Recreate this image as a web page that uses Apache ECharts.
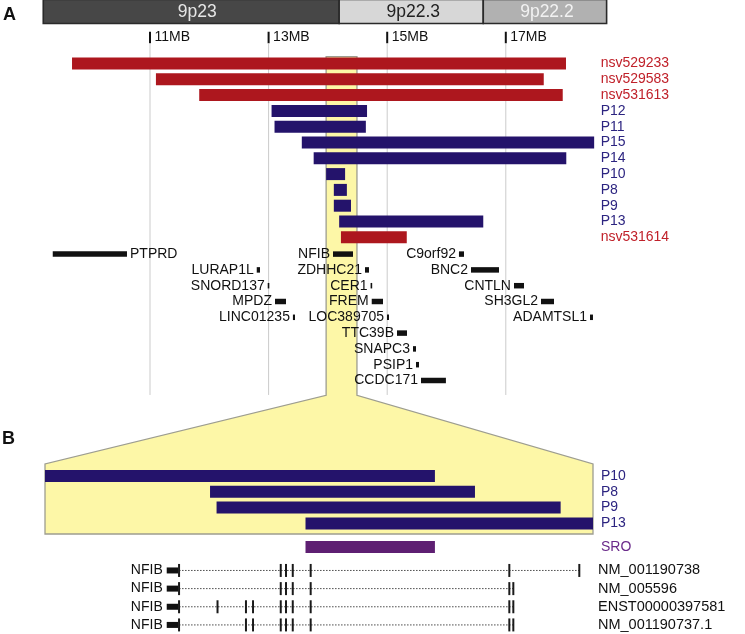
<!DOCTYPE html>
<html><head><meta charset="utf-8">
<script src="https://cdn.jsdelivr.net/npm/echarts@6/dist/echarts.min.js"></script>
<style>html,body{margin:0;padding:0;background:#fff}#c{width:745px;height:634px}</style>
</head><body><div id="c"></div>
<script>
// ================= DATA =================
// chromosome bands (MB)
const bandNames = ['9p23', '9p22.3', '9p22.2'];
const bandStart = [9.2, 14.19, 16.62];
const bandEnd   = [14.19, 16.62, 18.7];
// axis ticks (MB)
const tickValues = [11, 13, 15, 17];
const tickLabels = ['11MB', '13MB', '15MB', '17MB'];
// CNVs (MB)
const cnvNames  = ['nsv529233','nsv529583','nsv531613','P12','P11','P15','P14','P10','P8','P9','P13','nsv531614'];
const cnvStart  = [9.685, 11.10, 11.83, 13.05, 13.10, 13.56, 13.76, 13.97, 14.10, 14.10, 14.19, 14.22];
const cnvEnd    = [18.015, 17.64, 17.96, 14.66, 14.64, 18.49, 18.02, 14.29, 14.32, 14.39, 16.62, 15.33];
const cnvSource = ['DGV','DGV','DGV','patient','patient','patient','patient','patient','patient','patient','patient','DGV'];
// highlighted (zoomed) region (MB)
const zoomRegionStart = 13.97, zoomRegionEnd = 14.49;
// genes (MB) and their track
const geneNames = ['PTPRD','LURAP1L','SNORD137','MPDZ','LINC01235','NFIB','ZDHHC21','CER1','FREM','LOC389705','TTC39B','SNAPC3','PSIP1','CCDC171','C9orf92','BNC2','CNTLN','SH3GL2','ADAMTSL1'];
const geneStart = [9.36, 12.80, 12.985, 13.108, 13.41, 14.086, 14.626, 14.72, 14.739, 14.997, 15.165, 15.435, 15.486, 15.57, 16.21, 16.413, 17.138, 17.594, 18.42];
const geneEnd   = [10.612, 12.855, 13.0, 13.293, 13.445, 14.423, 14.693, 14.735, 14.929, 15.03, 15.334, 15.486, 15.536, 15.99, 16.295, 16.885, 17.307, 17.813, 18.47];
const geneTrack = [0, 1, 2, 3, 4, 0, 1, 2, 3, 4, 5, 6, 7, 8, 0, 1, 2, 3, 4];
// panel B: zoomed deletions (MB)
const zoomNames = ['P10', 'P8', 'P9', 'P13'];
const zoomStart = [13.97, 14.1266, 14.1328, 14.2172];
const zoomEnd   = [14.340, 14.378, 14.4593, 14.49];
const sroName = 'SRO', sroStart = 14.2172, sroEnd = 14.340;
// NFIB transcripts (MB)
const txGene = 'NFIB';
const txNames = ['NM_001190738', 'NM_005596', 'ENST00000397581', 'NM_001190737.1'];
const txFirstStart = 14.0855, txFirstEnd = 14.0965;
const txExons = [
  [14.0972, 14.1937, 14.1987, 14.2051, 14.2221, 14.4106, 14.477],
  [14.0972, 14.1937, 14.1987, 14.2051, 14.2221, 14.4106, 14.4144],
  [14.0972, 14.1337, 14.1607, 14.1674, 14.1937, 14.1987, 14.2051, 14.2221, 14.4106, 14.4144],
  [14.0972, 14.1607, 14.1674, 14.1937, 14.1987, 14.2051, 14.2221, 14.4106, 14.4144]
];

// ================= STYLE / LAYOUT =================
const FONT = '"Liberation Sans", Arial, Helvetica, sans-serif';
const RED = '#ad171e', RED_T = '#c0212a';
const NAVY = '#24136b', NAVY_T = '#2c2480';
const PURPLE = '#5e1f72', PURPLE_T = '#6a2a8a';
const bandFill = ['#474747', '#d7d7d7', '#b1b1b1'];
const bandText = ['#e6e6e6', '#222222', '#f2f2f2'];
// panel A row layout (row units)
const BAND_TOP = -4.05, BAND_BOT = -2.53;
const TICK_TOP = -2.01, TICK_BOT = -1.28, TICK_LAB = -1.66;
const GRID_TOP = -1.23, GRID_BOT = 20.98;
const GENE_ROW0 = 12;
const HL_TOP = -0.43, HL_BOT = 21.0;
const B_HL_TOP = -0.76, B_HL_BOT = 3.67;
const SRO_ROW = 4.5;

const measureCtx = document.createElement('canvas').getContext('2d');
function textWidth(t, size) { measureCtx.font = size + 'px ' + FONT; return measureCtx.measureText(t).width; }
function txt(x, y, text, opts) {
  return { type: 'text', x: x, y: y, z2: 10,
    style: Object.assign({ text: text, fontSize: 14, fontFamily: FONT, fill: '#111',
      textAlign: 'left', textVerticalAlign: 'middle' }, opts || {}) };
}

const chart = echarts.init(document.getElementById('c'), null, { renderer: 'canvas' });

const hiddenAxis = (min, max, gi, inverse) => ({ type: 'value', min: min, max: max, gridIndex: gi, show: false, inverse: !!inverse });

const option = {
  animation: false,
  backgroundColor: '#ffffff',
  title: [
    { text: 'A', left: 3, top: 6, padding: 0, textStyle: { fontSize: 18, fontWeight: 'bold', fontFamily: FONT, color: '#111' } },
    { text: 'B', left: 2, top: 430, padding: 0, textStyle: { fontSize: 18, fontWeight: 'bold', fontFamily: FONT, color: '#111' } }
  ],
  grid: [
    { left: 43.26, top: 0.3, width: 563.35, height: 410.8 },
    { left: 45, top: 460.2, width: 548, height: 94.8 },
    { left: 45, top: 561.375, width: 548, height: 74.6 }
  ],
  xAxis: [hiddenAxis(9.2, 18.7, 0), hiddenAxis(zoomRegionStart, zoomRegionEnd, 1), hiddenAxis(zoomRegionStart, zoomRegionEnd, 2)],
  yAxis: [hiddenAxis(-4, 22, 0, true), hiddenAxis(-1, 5, 1, true), hiddenAxis(-0.5, 3.5, 2, true)],
  series: [
    { // chromosome bands
      type: 'custom', xAxisIndex: 0, yAxisIndex: 0, z: 3, silent: true, clip: false,
      data: bandNames.map((n, i) => [bandStart[i], bandEnd[i], i]),
      encode: { x: [0, 1], y: 2 },
      renderItem: function (params, api) {
        const i = params.dataIndex;
        const p0 = api.coord([api.value(0), BAND_TOP]);
        const p1 = api.coord([api.value(1), BAND_BOT]);
        return { type: 'group', children: [
          { type: 'rect', shape: { x: p0[0], y: p0[1], width: p1[0] - p0[0], height: p1[1] - p0[1] },
            style: { fill: bandFill[i], stroke: '#2a2a2a', lineWidth: 1.6 } },
          txt((p0[0] + p1[0]) / 2 + (i === 0 ? 6 : 2), (p0[1] + p1[1]) / 2 + 1, bandNames[i], { fontSize: 17.5, fill: bandText[i], textAlign: 'center' })
        ] };
      }
    },
    { // ticks + gridlines
      type: 'custom', xAxisIndex: 0, yAxisIndex: 0, z: 1, silent: true,
      data: tickValues.map((v, i) => [v, i]),
      encode: { x: 0 },
      renderItem: function (params, api) {
        const i = params.dataIndex, v = api.value(0);
        const t0 = api.coord([v, TICK_TOP]), t1 = api.coord([v, TICK_BOT]);
        const g0 = api.coord([v, GRID_TOP]), g1 = api.coord([v, GRID_BOT]);
        const lb = api.coord([v, TICK_LAB]);
        return { type: 'group', children: [
          { type: 'line', shape: { x1: g0[0], y1: g0[1], x2: g1[0], y2: g1[1] }, style: { stroke: '#cbcbcb', lineWidth: 1 } },
          { type: 'line', shape: { x1: t0[0], y1: t0[1], x2: t1[0], y2: t1[1] }, style: { stroke: '#111', lineWidth: 2 } },
          txt(lb[0] + 4.5, lb[1], tickLabels[i], { fontSize: 14 })
        ] };
      }
    },
    { // CNV bars
      type: 'custom', xAxisIndex: 0, yAxisIndex: 0, z: 4, silent: true,
      data: cnvNames.map((n, i) => [cnvStart[i], cnvEnd[i], i]),
      encode: { x: [0, 1], y: 2 },
      renderItem: function (params, api) {
        const i = params.dataIndex;
        const s = api.coord([api.value(0), api.value(2)]), e = api.coord([api.value(1), api.value(2)]);
        const dgv = cnvSource[i] === 'DGV';
        const lab = api.coord([9.2 + (18.7 - 9.2) * 0.9894, api.value(2)]);
        return { type: 'group', children: [
          { type: 'rect', shape: { x: s[0], y: s[1] - 6, width: e[0] - s[0], height: 12 }, style: { fill: dgv ? RED : NAVY } },
          txt(lab[0], lab[1], cnvNames[i], { fill: dgv ? RED_T : NAVY_T, fontSize: 14 })
        ] };
      }
    },
    { // genes
      type: 'custom', xAxisIndex: 0, yAxisIndex: 0, z: 4, silent: true,
      data: geneNames.map((n, i) => [geneStart[i], geneEnd[i], GENE_ROW0 + geneTrack[i]]),
      encode: { x: [0, 1], y: 2 },
      renderItem: function (params, api) {
        const i = params.dataIndex;
        const s = api.coord([api.value(0), api.value(2)]), e = api.coord([api.value(1), api.value(2)]);
        const left = api.coord([9.2, 0])[0];
        const w = Math.max(e[0] - s[0], 1.6);
        const tw = textWidth(geneNames[i], 14);
        const onRight = (s[0] - 3 - tw) < left;
        const yy = s[1] + 1;
        return { type: 'group', children: [
          { type: 'rect', shape: { x: s[0], y: yy - 2.75, width: w, height: 5.5 }, style: { fill: '#111' } },
          onRight ? txt(s[0] + w + 3, yy, geneNames[i]) : txt(s[0] - 3, yy, geneNames[i], { textAlign: 'right' })
        ] };
      }
    },
    { // panel B deletions
      type: 'custom', xAxisIndex: 1, yAxisIndex: 1, z: 4, silent: true,
      data: zoomNames.map((n, i) => [zoomStart[i], zoomEnd[i], i]),
      encode: { x: [0, 1], y: 2 },
      renderItem: function (params, api) {
        const i = params.dataIndex;
        const s = api.coord([api.value(0), api.value(2)]), e = api.coord([api.value(1), api.value(2)]);
        const r = api.coord([zoomRegionEnd, api.value(2)]);
        return { type: 'group', children: [
          { type: 'rect', shape: { x: s[0], y: s[1] - 6, width: e[0] - s[0], height: 12 }, style: { fill: NAVY } },
          txt(r[0] + 8, r[1], zoomNames[i], { fill: NAVY_T })
        ] };
      }
    },
    { // SRO
      type: 'custom', xAxisIndex: 1, yAxisIndex: 1, z: 4, silent: true,
      data: [[sroStart, sroEnd, SRO_ROW]],
      encode: { x: [0, 1], y: 2 },
      renderItem: function (params, api) {
        const s = api.coord([api.value(0), api.value(2)]), e = api.coord([api.value(1), api.value(2)]);
        const r = api.coord([zoomRegionEnd, api.value(2)]);
        return { type: 'group', children: [
          { type: 'rect', shape: { x: s[0], y: s[1] - 6, width: e[0] - s[0], height: 12 }, style: { fill: PURPLE } },
          txt(r[0] + 8, r[1], sroName, { fill: PURPLE_T })
        ] };
      }
    },
    { // transcripts
      type: 'custom', xAxisIndex: 2, yAxisIndex: 2, z: 4, silent: true,
      data: txNames.map((n, i) => [txFirstStart, txExons[i][txExons[i].length - 1], i]),
      encode: { x: [0, 1], y: 2 },
      renderItem: function (params, api) {
        const i = params.dataIndex, row = api.value(2);
        const s = api.coord([txFirstStart, row]), fe = api.coord([txFirstEnd, row]);
        const ex = txExons[i].map(v => api.coord([v, row]));
        const r = api.coord([zoomRegionEnd, row]);
        const ch = [
          { type: 'line', shape: { x1: ex[0][0], y1: s[1], x2: ex[ex.length - 1][0], y2: s[1] },
            style: { stroke: '#4a4a4a', lineWidth: 1, lineDash: [1.5, 1.5] } },
          { type: 'rect', shape: { x: s[0], y: s[1] - 3, width: fe[0] - s[0], height: 6 }, style: { fill: '#111' } },
          txt(s[0] - 4, s[1], txGene, { textAlign: 'right' }),
          txt(r[0] + 5, r[1], txNames[i], { fontSize: 14.5 })
        ];
        ex.forEach(p => ch.push({ type: 'line', shape: { x1: p[0], y1: p[1] - 6.5, x2: p[0], y2: p[1] + 6.5 }, style: { stroke: '#1a1a1a', lineWidth: 2 } }));
        return { type: 'group', children: ch };
      }
    }
  ]
};
chart.setOption(option);

// highlight connecting panel A region to panel B
const pa = p => chart.convertToPixel({ xAxisIndex: 0, yAxisIndex: 0 }, p);
const pb = p => chart.convertToPixel({ xAxisIndex: 1, yAxisIndex: 1 }, p);
const pts = [
  pa([zoomRegionStart, HL_TOP]), pa([zoomRegionEnd, HL_TOP]), pa([zoomRegionEnd, HL_BOT]),
  pb([zoomRegionEnd, B_HL_TOP]), pb([zoomRegionEnd, B_HL_BOT]), pb([zoomRegionStart, B_HL_BOT]),
  pb([zoomRegionStart, B_HL_TOP]), pa([zoomRegionStart, HL_BOT])
];
chart.setOption({
  graphic: [{ type: 'polygon', z: 0, silent: true, shape: { points: pts },
    style: { fill: '#fdf7a7', stroke: '#9d9d90', lineWidth: 1.3 } }]
});
</script></body></html>
